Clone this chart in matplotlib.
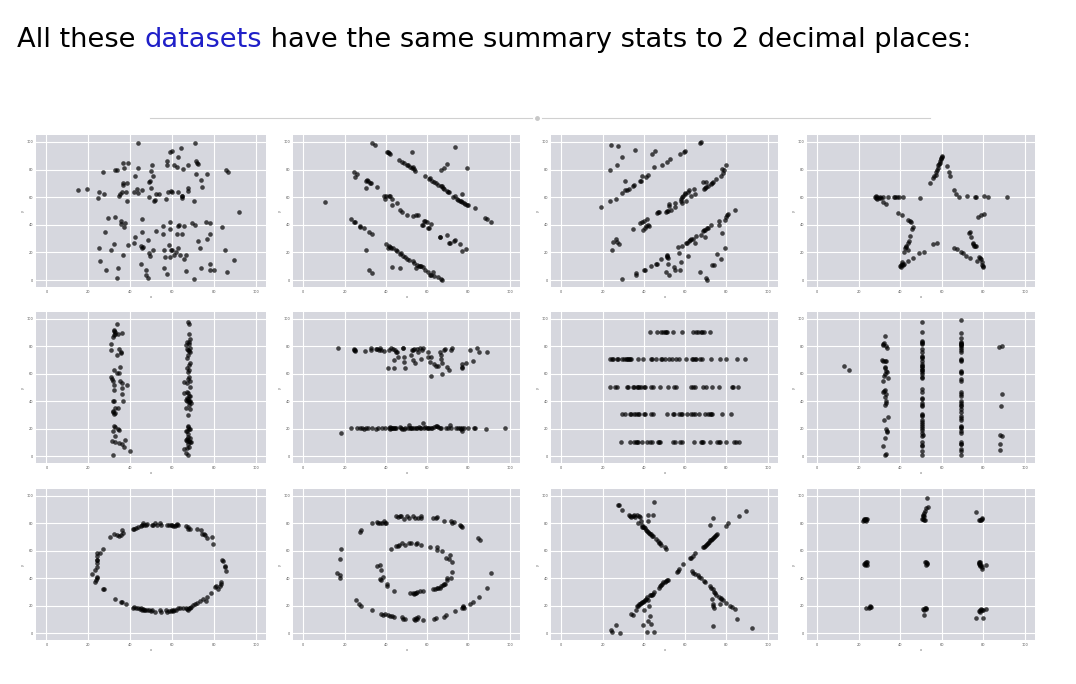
import matplotlib.pyplot as plt
from matplotlib.lines import Line2D

# ---- data (one list of (x, y) per dataset) ----
away = [(15,65),(19.5,66),(25,63.5),(24.5,59.5),(27.5,62.5),(27,78.5),(33,80),(33.5,80),(36.5,84.5),(39,85),
        (37,81),(36.5,69),(36.5,70.5),(38.5,70.5),(36,64),(35,62),(34.5,60.5),(38,64),(38.5,57),(42,64),
        (42.5,75),(44,81),(43.5,66),(44,63),(45.5,65.5),(44,99.5),(49,71),(49.5,71.5),(50,79),(50.5,83),
        (51,75.5),(50,67),(49,60),(51.5,57),(52,58),(52.5,62.5),(54,62),(57,59),(57.5,86),(57.5,83.5),
        (58,64),(59.5,64.5),(60,64),(59,93),(60,93.5),(61,83.5),(63,89),(62.5,81.5),(64.5,95.5),(65.5,80.5),
        (67.5,83),(63,64),(65,61),(65,60.5),(65,59.5),(67.5,67),(67.5,64.5),(70.5,57.5),(71,99.5),(71.5,86),
        (72,84.5),(72.5,84),(71.5,77),(74,72.5),(74.5,67.5),(77,77),(86,80),(87,78.5),
        (29.5,45),(33,46),(35.5,43),(35.5,40.5),(37.5,41),(37,38.5),(28,35),(32.5,26),(25,23.5),(31,21.5),
        (25.5,14),(36.5,18),(39,25.5),(42.5,31),(42,27),(45.5,44.5),(45.5,35),(45,25),(46,24),(45.5,23.5),
        (48.5,29),(49,19.5),(49.5,17.5),(51,21.5),(52.5,35.5),(45,12),(47.5,7),(47.5,4),(48.5,1.5),(34,9),
        (33.5,1.5),(28.5,7),(55.5,39),(55.5,33.5),(56,21.5),(56.5,17),(56,9),(57.5,4.5),(58.5,25.5),(59,42),
        (59,37),(59.5,21.5),(60,21.5),(59,17),(61,18.5),(62,20),(62.5,33.5),(63,39.5),(63.5,40),(63,23.5),
        (64,18),(65,33.5),(66,39),(66,15.5),(66.5,18.5),(66.5,6.5),(69.5,41),(71,40),(72.5,28.5),(73.5,23.5),
        (74,9),(70.5,1),(76.5,42),(77,29.5),(78,41.5),(78,33),(78,12),(78,7),(80,7),(84,38.5),
        (85.5,21.5),(89.5,14.5),(92,49),(86.5,6)]

slant_down = [(10.5,56.5),
        (23,44),(24.5,42),(25,42),(27.5,39),(27.5,38.5),(29.5,38),(32,35),(33.5,33),(30.5,21.5),(32,7.5),
        (33.5,5),(40,26),(41,23.5),(41.5,25),(42,24),(42.5,23),(43.5,23.5),(45,22),(45.5,21),(47,19),
        (47.5,19.5),(48.5,17.5),(49.5,16.5),(50,15.5),(51,14.5),(53,13.5),(53.5,12.5),(54.5,9),(55,11),(56,10.5),
        (56.5,10.5),(57,10),(58,9.5),(59,7.5),(60.5,5.5),(61.5,4),(62,4),(63,6),(63.5,3),(65.5,2.5),
        (66.5,0.5),(67,0),(43,9.5),(47,9),
        (24.5,78),(25,74.5),(26,76.5),(30.5,72),(31,72.5),(31.5,71.5),(32.5,70.5),(33,70),(30.5,66.5),(35.5,67.5),
        (39,61),(39.5,58.5),(40,61),(41.5,61),(42,61),(43,59),(43,54.5),(45.5,56),(47,50.5),(48,49.5),
        (50,47),(53,46.5),(54.5,47),(55.5,47),(57.5,40),(58,40),(59,43),(60,42),(60.5,37.5),(61,37.5),
        (62,40.5),(66,31),(66,31.5),(69.5,32.5),(70.5,26.5),(71,26.5),(73,28),(73.5,29),(76,26),(77,21),
        (79,22.5),(58.5,43),
        (33.5,99.5),(34.5,98),(40.5,93),(41,92.5),(41.5,92),(42,91.5),(46.5,87),(48,85.5),(49,84.5),(50,83.5),
        (50.5,83),(51.5,81.5),(52.5,81),(53,81.5),(53.5,80.5),(54,79),(52.5,93),(59,75.5),(61,73),(61.5,74),
        (62.5,72),(63.5,71),(64.5,70),(65.5,69),(66.5,68),(67,68),(67.5,67),(68,66),(69.5,64.5),(70.5,64),
        (72.5,60),(73.5,60.5),(74.5,59),(75,58),(76,57.5),(76.5,57),(77,56.5),(78,56),(78.5,55),(79.5,54.5),
        (80,54),(77,62),(83,52),(88,45),(89,44.5),(91,42),(66.5,80),(68,81),(69.5,84),(73.5,96.5),
        (79.5,81),(70,64)]

slant_up = [(19,53),(23.5,57),(26.5,59),(29.5,63),(31,65.5),(32,65.5),(33,66),(34.5,68),(35,68.5),(38,72),
        (38.5,72),(39,75),(41,74.5),(42,76),(31,71.5),(23.5,79.5),(27,83),(29.5,89),(24,97.5),(27.5,97),
        (35.5,94.5),(44,91.5),(45.5,93.5),(45,81.5),(49,83.5),(51,85.5),(52.5,87.5),(57.5,91.5),(59.5,93),(60,93.5),
        (67,99.5),(67.5,100),
        (34.5,37),(38,41),(39,42),(39.5,36.5),(40,42.5),(40.5,38),(41,39.5),(41.5,44.5),(42,40),(42.5,39.5),
        (46.5,48.5),(47,49),(47.5,49.5),(50.5,49),(51,50),(51.5,50),(52,53.5),(52,55),(53,50.5),(55,53),
        (55,55.5),(58,57),(58,58.5),(58.5,56),(58.5,60),(59,61),(60.5,57.5),(60,62.5),(61.5,64),(62,65),
        (63,60.5),(64.5,66),(65,62),(68.5,71),(69,66),(69.5,66.5),(70,67.5),(70,71),(71,68),(72.5,69.5),
        (73,70.5),(73.5,71),(75,73),(77.5,75),(78,80.5),(78.5,77.5),(79,79.5),(80,83),(60,63),
        (24.5,22),(25,27.5),(26.5,29.5),(27,27.5),(28,26),(29.5,0.5),(36,5),(36,3.5),(40,7.5),(40.5,7),
        (43.5,10),(46,11.5),(46.5,11.5),(48.5,15.5),(50.5,5.5),(51,18),(51,16.5),(51,17.5),(51.5,16),(51.5,11.5),
        (52,3.5),(54.5,9.5),(55,7.5),(56.5,24),(57,19.5),(57.5,7),(58,13),(58.5,25),(60.5,26.5),(61,27),
        (61.5,17.5),(62,28.5),(62.5,29),(63,29.5),(64,30),(65,27),(65.5,32),(67,5.5),(67.5,32.5),(68.5,35.5),
        (69,36),(69.5,36.5),(69.5,31.5),(70,1.5),(70.5,0),(70.5,37.5),(71,38),(72.5,40),(73,11),(74,11),
        (75.5,19),(76.5,40),(76.5,42.5),(77.5,15.5),(78,34),(79.5,43.5),(80,46),(80.5,47),(81,48),(79.5,23.5),
        (84,51)]

star = [(28,60),(28.5,60.5),(28.5,59.5),(29,60),(29,59),(29.5,59.5),(30,60),(30.5,59.5),(31.5,60),(31.5,56.5),
        (33,55),(34,60),(37,60),(37.5,60),(38.5,60),(39.5,60),(41.5,60),(49.5,59.5),(39,48.5),(41,47),
        (43.5,43.5),(44.5,42.5),(45,42),(45.5,37),(46,38.5),(44.5,32),(44,28),(43.5,27),(43,25),(43,24),
        (42.5,23),(42,20),(43.5,22),(40,10),(40.5,11),(41,12),(41,13),(41.5,11),(42,11.5),(40.5,9.5),
        (43.5,13.5),(46,16),(49,19.5),(51.5,20.5),(56,26),(57.5,27),(56,74),(56.5,75.5),(57,76),(57,78.5),
        (57.5,80),(58,81),(58,83),(58.5,84),(59,85),(59,86),(59.5,87.5),(59.5,88),(60,89),(60,90),
        (54.5,70),(62.5,82.5),(63.5,78),(64,75.5),(66,65),(67,62),(68.5,60),(72,60.5),(76,60),(76.5,60),
        (80.5,60.5),(82.5,60),(91.5,60),(77.5,46),(79,47),(80.5,48),(73,34),(73.5,35),(74,31),(75,27),
        (75,26),(75.5,25),(76,24.5),(76.5,24.5),(66,23.5),(67.5,22.5),(69.5,20.5),(70.5,19.5),(71.5,17.5),(73.5,16),
        (77,13.5),(78,17),(78.5,16),(79,15),(79.5,13),(79.5,11),(80,10),(80,9.5)]

wide_lines = [(33.5,96),(32.5,92),(32.5,91),(33,90.5),(33,89),(32.5,88.5),(32,87),(34,89),(36,90),(31,82),
        (34.5,78),(35.5,76),(35.5,75),(31,77),(33.5,74),(32.5,63),(34.5,60.5),(33.5,60.5),(35,65),(31,58),
        (31.5,56),(32,55),(32.5,52),(32.5,48),(35,55),(36,53),(36,50),(36,45),(38.5,51.5),(32,40),
        (32.5,40.5),(36.5,40),(33,35),(34,35),(32,33),(32,32),(32.5,31),(33,31.5),(32.5,22),(33,21.5),
        (32,18),(34,19.5),(34.5,19),(33,14.5),(37.5,12),(31.5,11),(33,10),(34.5,9.5),(36,8.5),(37,7),
        (40,3.5),(32,1),
        (67.5,97.5),(68,96.5),(68,89),(67,83),(68.5,85),(68,83),(66.5,81),(68,82),(68.5,79),(67,78),
        (67.5,77),(68,76.5),(68.5,76),(67.5,74),(67,71.5),(68.5,68),(68,66.5),(67,64),(68,62.5),(67.5,61.5),
        (68,58),(67.5,56),(68.5,55),(66,54),(67,53),(68.5,50.5),(66,46),(67,46.5),(67.5,46),(68,44),
        (68.5,44),(67,42),(67.5,41.5),(68,40.5),(68.5,40.5),(67,40),(68,39.5),(69,38.5),(68,37.5),(66.5,41),
        (66.5,35),(68.5,34.5),(67.5,30),(67.5,22),(67.5,21),(68,20),(68.5,19.5),(67,18.5),(66.5,18),(67.5,16),
        (67.5,14),(68.5,13.5),(67,12.5),(66.5,11.5),(67,11),(68,11),(68.5,10),(69,10.5),(67.5,9),(68,7),
        (67,6),(66,5),(66.5,2.5),(67.5,0.5)]

high_lines = [(17,78.5),(24.5,78),(24.5,77),(25,76.5),(25,77.5),(30,76.5),(33,77.5),(33,78.5),(35,78),(35.5,78),
        (36.5,77),(37,78.5),(37.5,77),(39,76.5),(41.5,77.5),(42.5,78.5),(43.5,78),(44.5,77),(45,76),(45.5,76),
        (46,72),(44,70),(44,64),(41,64.5),(48.5,79),(48.5,78.5),(49,72),(49,68.5),(49.5,64),(52,74),
        (52.5,77),(53,77.5),(53,70),(53.5,78),(54,67.5),(55,78),(55.5,76),(56.5,78.5),(57,71),(57.5,77),
        (58,78.5),(60.5,76),(60.5,72.5),(61.5,68.5),(62,72.5),(62,58.5),(63.5,67),(64.5,65.5),(65.5,66),(66,76),
        (66.5,74),(66.5,71),(67,68),(67,59.5),(68,77),(68.5,78),(69.5,65),(70.5,62.5),(71.5,77.5),(72,78.5),
        (77,67),(77,65),(77,64),(79,67.5),(81,77),(82,69.5),(84,78.5),(85,76),(89,75.5),
        (18.5,16.5),(23,20.5),(26,20.5),(27.5,20.5),(28.5,20.5),(29.5,20),(30.5,20.5),(31.5,20.5),(33.5,20.5),(35,20),
        (36,20.5),(38,20.5),(39.5,20.5),(41.5,20.5),(42,21),(42,20),(42.5,20.5),(43,20.5),(43.5,20.5),(44,20.5),
        (44.5,20.5),(45,20.5),(47,21.5),(47.5,20.5),(48,20),(49,20),(49.5,20.5),(50.5,20.5),(51,23),(51.5,20.5),
        (52,20.5),(52.5,20.5),(53.5,20.5),(54.5,20.5),(55,20.5),(56,21),(56.5,20.5),(57,20.5),(58,24.5),(58.5,20.5),
        (59,21),(60,20.5),(60.5,20.5),(61,20.5),(62,20.5),(62.5,20.5),(63.5,21.5),(64.5,22),(65,22),(65.5,21),
        (66,20.5),(66.5,20.5),(69,20.5),(70,20.5),(71,22.5),(71.5,20.5),(74,20.5),(75,20.5),(76,20.5),(76.5,19.5),
        (77,18),(77,20.5),(78,20.5),(80,20.5),(82.5,20.5),(83,20.5),(88.5,20),(97.5,20.5)]

h_lines_x90 = [43,46.5,48.5,49.5,50,50.5,51,54,58.5,64,65.5,66,67.5,68,69,72]
h_lines_x70 = [23.5,24.5,25,27,27.5,29.5,30.5,31.5,32,32.5,33,33.5,34,37,39.5,43.5,44,46,48.5,49,
               50,52,53.5,55.5,57,60.5,63.5,64,65,65.5,67,68,72.5,77,80,85,89]
h_lines_x50 = [23.5,26,27,32,32.5,34.5,35,36.5,37,37.5,38.5,40,40.5,43.5,44.5,48,51.5,54.5,55.5,63,
               64,65,68.5,70,73,76.5,82.5,83,85.5]
h_lines_x30 = [29.5,31,33.5,34,35,36,37,37.5,40,40.5,43.5,44.5,51,54,54.5,57,58,58.5,61,63,
               64,65,66.5,69.5,71,72,72.5,73,78,82]
h_lines_x10 = [29,33.5,35,36,36.5,37,39,41.5,43,44,47,47.5,48,54,55,57.5,58.5,64.5,67.5,68,
               68.5,72,75.5,76.5,77,80,83.5,84.5,86]
h_lines = ([(x, 90.5) for x in h_lines_x90] + [(x, 70.5) for x in h_lines_x70] +
           [(x, 50.5) for x in h_lines_x50] + [(x, 30.5) for x in h_lines_x30] +
           [(x, 10) for x in h_lines_x10])

v_lines_y50 = [98,90.5,84,83,82.5,81.5,78,75.5,73,72,71.5,69,67,66,65.5,64.5,63,62.5,61,59.5,
               58,57,49,46.5,42,41.5,39,37.5,36.5,31,30,29,26.5,25,23.5,22,20.5,19,17,15,
               10,8,7.5,4,1]
v_lines_y69 = [99.5,89.5,86,83.5,82.5,82,81.5,81,80,79,77,76,70.5,70,69,62,61.5,60.5,56.5,54.5,
               46.5,45.5,44,40.5,39,37,36.5,34.5,32,29,28,26.5,22,21.5,20.5,17,18,10,9,8.5,
               5.5,4,1]
v_lines = ([(13,65.5),(15.5,63),(32.5,87.5),(31.5,82),(32,82.5),(31.5,81),(33,80),(33.5,79),(31,70),(31.5,69),
            (32.5,69.5),(33,69),(32.5,65),(32.5,64),(33,62),(33.5,61),(32.5,59.5),(32,58.5),(34,57),(31.5,55),
            (32,47.5),(32.5,48.5),(31.5,46.5),(33,45),(32.5,43),(33,40),(33,39),(32.5,37.5),(34,28.5),(32,26.5),
            (33,20),(33.5,18.5),(33.5,17.5),(32.5,13.5),(31.5,7.5),(32.5,1),(33,1.5),(51,15.5),
            (87.5,79.5),(89,80.5),(89,45),(88.5,36.5),(88,15.5),(89,15),(88,8.5),(88,4.5)] +
           [(50.5, y) for y in v_lines_y50] + [(69.5, y) for y in v_lines_y69])

circle = [(22,43),(23,46),(23,37),(23.5,38.5),(24,41),(24,40),(24,48),(24,51),(24,53),(24,53.5),
        (24,56.5),(24,58.5),(25.5,58.5),(27,61.5),(27,32),(27.5,32.5),(30.5,70),(32.5,72.5),(33.5,71.5),(34.5,71),
        (35.5,71.5),(36,75),(36.5,73),(33,25),(35.5,23),(36,22.5),(38,21.5),(41.5,18),(42,19),(43,18.5),
        (44,18),(44.5,17.5),(45,18),(45.5,17),(46,17.5),(46.5,17),(47,16.5),(48,17),(49,17),(50,16),
        (50.5,16.5),(52,15.5),(54.5,16.5),(55,15.5),(57,16.5),(57.5,15.5),(58.5,16),(59.5,16),(60,17),(60.5,16),
        (61,16.5),(62,17),(63,18),(64,18),(65.5,18.5),(66.5,18),(67,17.5),(67.5,17),(68,18.5),(68.5,18),
        (69,19),(70,20.5),(71,21.5),(72,22),(73.5,23.5),(75,25),(76.5,23.5),(77,26),(78.5,29.5),(80.5,33.5),
        (81,34.5),(82,32.5),(83,34),(83.5,35.5),(83.5,37),(84,53.5),(84.5,52.5),(85.5,49),(85.5,48),(86,45),
        (79.5,65),(79,70),(77,69.5),(76,71.5),(75.5,72),(74.5,72),(74,75),(72,75.5),(68.5,75.5),(67.5,77),
        (67.5,75.5),(66.5,78),(63,78.5),(62.5,79.5),(62,78.5),(61.5,78),(60.5,78),(60,78.5),(59.5,79),(58.5,78.5),
        (57.5,79),(55,79),(54.5,80),(53,78.5),(52,80),(51,78.5),(50.5,79),(48,79.5),(47.5,79),(46.5,79),
        (46,80),(45.5,78.5),(45,78),(44,77),(43,76.5),(42,76),(41.5,76)]

bullseye = [(16.5,44),(18,42),(18,40.5),(18,54),(18.5,61),(25.5,24.5),(27,21.5),(28,19.5),(27.5,74),(28,75),
        (33.5,16.5),(33.5,80),(35.5,81),(36,80.5),(37,80),(38,80.5),(39,81.5),(39.5,80.5),(40,80),(37.5,14),
        (38.5,13.5),(39.5,14),(41,13),(42,12.5),(43,12.5),(44,11.5),(45,85),(46,84.5),(47,85),(47.5,85.5),
        (48,12),(48.5,10.5),(49.5,10),(49,83.5),(50,85),(51,84),(53,85.5),(54,84),(55.5,84),(57,85.5),
        (57,84),(53.5,10),(54,9.5),(54.5,11),(55,10),(55.5,11.5),(58,9.5),(63.5,10.5),(64.5,11),(63,84),
        (64.5,84),(65,84.5),(68,82),(68,12),(69,13),(71.5,82),(72,80.5),(73,81),(73.5,16),(76,79),
        (76.5,78),(77,77.5),(77.5,19),(77.5,20),(77,18),(78,18),(81,21.5),(82,22.5),(84.5,69.5),(85.5,67.5),
        (85,26.5),(89,33),(91,44),
        (35.5,49),(37,50),(37.5,46),(37,39.5),(37.5,39),(38.5,41),(40.5,36),(40.5,34.5),(42.5,61.5),(44,31),
        (45,63.5),(46,63.5),(46.5,64.5),(48,65.5),(49.5,64.5),(51,65.5),(52,66),(54.5,65),(55,66),(57,64.5),
        (51.5,29.5),(53,29.5),(53.5,28.5),(54,29),(54.5,29),(55,30),(56.5,30.5),(58,31),(61.5,63),(63,32.5),
        (64,32.5),(65,33),(65,60.5),(65,63),(65.5,33),(66,33),(66.5,34),(67,60),(67.5,35),(68,36),
        (68.5,36),(69,55),(69.5,38.5),(69.5,40),(70.5,54),(71,57),(71.5,40),(72,51.5),(72,44.5)]

x_shape = [(27.5,93.5),(28,93),(29.5,89.5),(33,86),(33.5,85),(34,84.5),(34.5,85),(35,86),(35.5,84.5),(36.5,86),
        (37.5,85),(38,84.5),(37,80),(38.5,82),(39,79),(39,77.5),(39.5,77),(40,77),(40.5,76.5),(41,75),
        (41.5,74.5),(42,74),(42.5,73),(43,72.5),(43.5,72),(44,71),(44.5,70.5),(46,68.5),(47,67),(47.5,66),
        (48,65.5),(48.5,64.5),(50,62.5),(50.5,61.5),(42,86),(42,82),(44.5,86),(45,95.5),
        (63.5,45),(64,44),(65,43),(66,42),(66.5,41),(67.5,40),(69,38),(69.5,37),(72,34),(72.5,33),
        (73.5,32),(74,30),(74.5,29.5),(75,27.5),(76.5,26),(77.5,25.5),(77.5,25),(77,21.5),(78.5,24),(80,22),
        (81.5,20),(82.5,19),(84,17.5),(73,25),(73.5,21.5),(73.5,20),(74,18.5),(85,10.5),(92.5,3.5),(73.5,5.5),
        (24,2),(24.5,0.5),(26.5,6),(28.5,0),(34,14),(34.5,13),(36,17),(36.5,19.5),(37,20),(37.5,21),
        (38,21.5),(38.5,22),(39,22.5),(39.5,23),(40,23.5),(40.5,24),(41,25),(41.5,26),(42,24.5),(42.5,19.5),
        (43,27.5),(43.5,28),(44,28),(44.5,28.5),(45,30),(40,17),(39.5,6),(41.5,0.5),(42,8.5),(43,12.5),
        (43.5,7),(45,0.5),(47.5,33),(48,34),(48.5,35),(49,36),(49.5,37),(50,37.5),(50.5,38),(51,38.5),
        (51.5,39),(56,44.5),(56.5,45.5),(57,46.5),(59,50.5),(62.5,54.5),(63,55),(64,56),(65,58.5),(68.5,62.5),
        (69,63),(69.5,63.5),(70,64.5),(70.5,65),(71,65.5),(71.5,66.5),(72,67.5),(72.5,68),(73,68.5),(73.5,69),
        (74,70),(74.5,71),(75,71.5),(75.5,72),(72,79),(73.5,84),(80,78),(81,80.5),(86,85),(89.5,89)]

dots = [(22.5,82.5),(23,83),(23.5,83.5),(22,82),(23,82.5),(24,83),(22.5,83.5),(23.5,82),
        (23,51),(23.5,50.5),(24,51.5),(23,50),(23.5,51.5),(24,50),(22.5,50.5),
        (23.5,18.5),(25.5,19),(25.5,19.5),(25,18.5),(26,19),
        (51,83),(51.5,82.5),(52,82.5),(50.5,83.5),(51,85),(51,86),(51.5,87.5),(52,89),(52.5,91.5),(53.5,92),
        (53,98.5),(51.5,85.5),
        (52,52),(52.5,51.5),(53,51),(53,50.5),(52.5,50),
        (51,17.5),(51.5,17),(52,18),(52.5,17.5),(52.5,18.5),(51.5,13),
        (76.5,88.5),(78,82.5),(78.5,82.5),(79,82.5),(79.5,84),(79.5,83),
        (78,51),(78.5,52),(78,50.5),(78.5,50),(79,49.5),(79.5,48.5),(78,51.5),(79.5,47),(81.5,49.5),(78.5,49),
        (78,16),(78.5,17),(79,17.5),(79.5,17),(80,17),(81.5,17.5),(76.5,11),(80,11),(78.5,15.5)]

panels = [away, slant_down, slant_up, star,
          wide_lines, high_lines, h_lines, v_lines,
          circle, bullseye, x_shape, dots]

ticks = [0, 20, 40, 60, 80, 100]

W, H = 1076, 684
fig = plt.figure(figsize=(W / 100, H / 100), dpi=100)
fig.patch.set_facecolor('white')

# title, with "datasets" in link blue
title_parts = [("All these ", 'black'), ("datasets", '#1f1fc8'),
               (" have the same summary stats to 2 decimal places:", 'black')]
t = fig.text(17 / W, 1 - 40 / H, title_parts[0][0], fontsize=19.6, color=title_parts[0][1],
             va='center', ha='left')
fig.canvas.draw()
r = fig.canvas.get_renderer()
for txt, col in title_parts[1:]:
    bb = t.get_window_extent(renderer=r)
    t = fig.text(bb.x1 / W, 1 - 40 / H, txt, fontsize=19.6, color=col, va='center', ha='left')

# thin separator with a dot in the middle
fig.add_artist(Line2D([150 / W, 532 / W], [1 - 118 / H] * 2, color='#d0d0d0', lw=0.8))
fig.add_artist(Line2D([542 / W, 930 / W], [1 - 118 / H] * 2, color='#d0d0d0', lw=0.8))
fig.add_artist(Line2D([537 / W], [1 - 118 / H], marker='o', ms=2.5, color='#c8c8c8', lw=0))

col_l = [36, 293, 551, 807]
col_r = [266, 520, 778, 1035]
row_t = [135, 312, 489]
row_b = [287, 463, 640]

for i, pts in enumerate(panels):
    r_i, c_i = divmod(i, 4)
    ax = fig.add_axes([col_l[c_i] / W, 1 - row_b[r_i] / H,
                       (col_r[c_i] - col_l[c_i]) / W, (row_b[r_i] - row_t[r_i]) / H])
    ax.set_facecolor('#d6d7de')
    ax.set_axisbelow(True)
    ax.grid(color='white', lw=0.8)
    for s in ax.spines.values():
        s.set_visible(False)
    xs = [p[0] for p in pts]
    ys = [p[1] for p in pts]
    ax.scatter(xs, ys, s=11, color='black', alpha=0.7, lw=0)
    ax.set_xlim(-5, 105)
    ax.set_ylim(-5, 105)
    ax.set_xticks(ticks)
    ax.set_yticks(ticks)
    ax.tick_params(length=0, labelsize=2.5, pad=2, colors='#555555')
    ax.set_xlabel('x', fontsize=2.5, labelpad=1, color='#555555')
    ax.set_ylabel('y', fontsize=2.5, labelpad=1, color='#555555')

fig.savefig('out.png', dpi=100)
